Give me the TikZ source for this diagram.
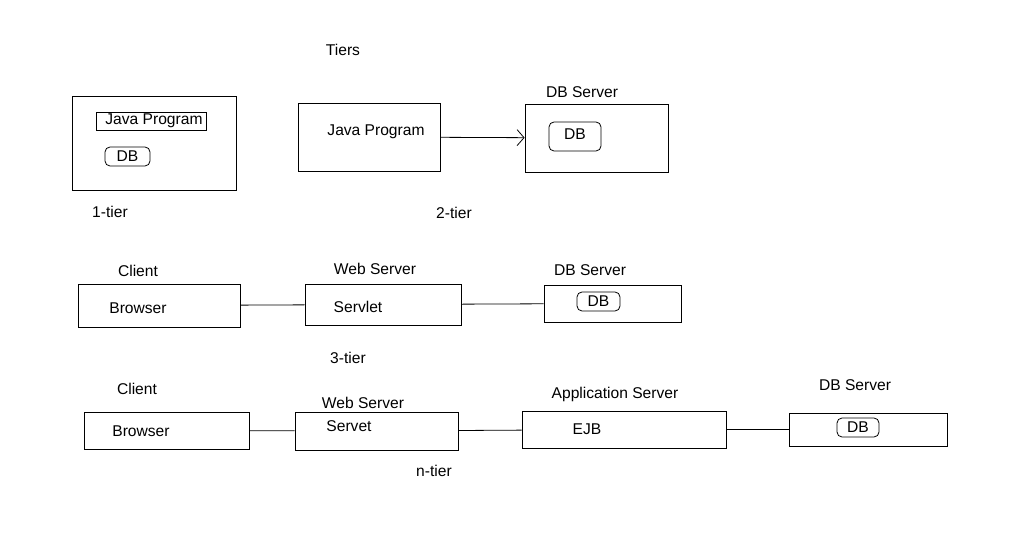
\documentclass[tikz,border=0pt]{standalone}
\usepackage{fontspec}
\setmainfont{Liberation Sans}
\usepackage{tikz}
\usetikzlibrary{arrows,arrows.meta}

\tikzset{
  lbl/.style={inner sep=0pt, font=\fontsize{15.6}{18}\selectfont},
  tierbox/.style={draw, line width=0.8pt, inner sep=0pt},
  dbbox/.style={draw, line width=0.8pt, rounded corners=5pt, inner sep=0pt, font=\fontsize{15.6}{18}\selectfont},
  link/.style={-, line width=0.8pt}
}

\begin{document}
\begin{tikzpicture}[x=1pt,y=-1pt]
  \useasboundingbox (0,0) rectangle (1034,534);
  \draw (343,50) node[lbl] (tiers) {Tiers};

  % 1-tier
  \draw (154,143) node[tierbox, minimum width=164pt, minimum height=94pt] (one) {};
  \draw (151,121) node[tierbox, minimum width=110pt, minimum height=18pt, font=\fontsize{15.6}{18}\selectfont] (javaone) {\hspace{6pt}Java Program};
  \draw (127.5,156.5) node[dbbox, minimum width=45pt, minimum height=19pt] (dbone) {DB};
  \draw (110,212) node[lbl] (onetier) {1-tier};

  % 2-tier
  \draw (369,137) node[tierbox, minimum width=142pt, minimum height=68pt] (javatwo) {};
  \draw (376,132) node[lbl] (javatwotext) {Java Program};
  \draw (596.5,138) node[tierbox, minimum width=143pt, minimum height=68pt] (dbsrvtwo) {};
  \draw (582,92) node[lbl] (dbsrvtwolbl) {DB Server};
  \draw (575,136.5) node[dbbox, minimum width=52pt, minimum height=29pt] (dbtwo) {};
  \draw (575,134) node[lbl] (dbtwotext) {DB};
  \draw (454,213) node[lbl] (twotier) {2-tier};

  % 3-tier
  \draw (138,271) node[lbl] (clientthree) {Client};
  \draw (159,305.5) node[tierbox, minimum width=162pt, minimum height=43pt] (browserthree) {};
  \draw (138,308) node[lbl] (browserthreetext) {Browser};
  \draw (375,269) node[lbl] (webthree) {Web Server};
  \draw (383,304.5) node[tierbox, minimum width=156pt, minimum height=41pt] (servletthree) {};
  \draw (358,307) node[lbl] (servletthreetext) {Servlet};
  \draw (590,270) node[lbl] (dbsrvthreelbl) {DB Server};
  \draw (612.5,303.5) node[tierbox, minimum width=137pt, minimum height=37pt] (dbsrvthree) {};
  \draw (598.5,301.5) node[dbbox, minimum width=43pt, minimum height=19pt] (dbthree) {DB};
  \draw (348,358) node[lbl] (threetier) {3-tier};

  % n-tier
  \draw (137,389) node[lbl] (clientn) {Client};
  \draw (166.5,430.5) node[tierbox, minimum width=165pt, minimum height=37pt] (browsern) {};
  \draw (141,431) node[lbl] (browserntext) {Browser};
  \draw (363,403) node[lbl] (webn) {Web Server};
  \draw (376.5,431) node[tierbox, minimum width=163pt, minimum height=38pt] (servetn) {};
  \draw (349,426) node[lbl] (servetntext) {Servet};
  \draw (615,394) node[lbl] (appn) {Application Server};
  \draw (624,429.5) node[tierbox, minimum width=204pt, minimum height=37pt] (ejbn) {};
  \draw (587,429) node[lbl] (ejbntext) {EJB};
  \draw (855,385) node[lbl] (dbsrvnlbl) {DB Server};
  \draw (868,429.5) node[tierbox, minimum width=158pt, minimum height=33pt] (dbsrvn) {};
  \draw (858,427.5) node[dbbox, minimum width=42pt, minimum height=19pt] (dbn) {DB};
  \draw (434,471) node[lbl] (ntier) {n-tier};

  \path[-{Straight Barb[length=7pt,width=16pt,line width=0.8pt]}, line width=0.8pt] (javatwo) edge (dbsrvtwo);
  \path[link] (browserthree) edge (servletthree);
  \path[link] (servletthree) edge (dbsrvthree);
  \path[link] (browsern) edge (servetn);
  \path[link] (servetn) edge (ejbn);
  \path[link] (ejbn) edge (dbsrvn);

\end{tikzpicture}
\end{document}
